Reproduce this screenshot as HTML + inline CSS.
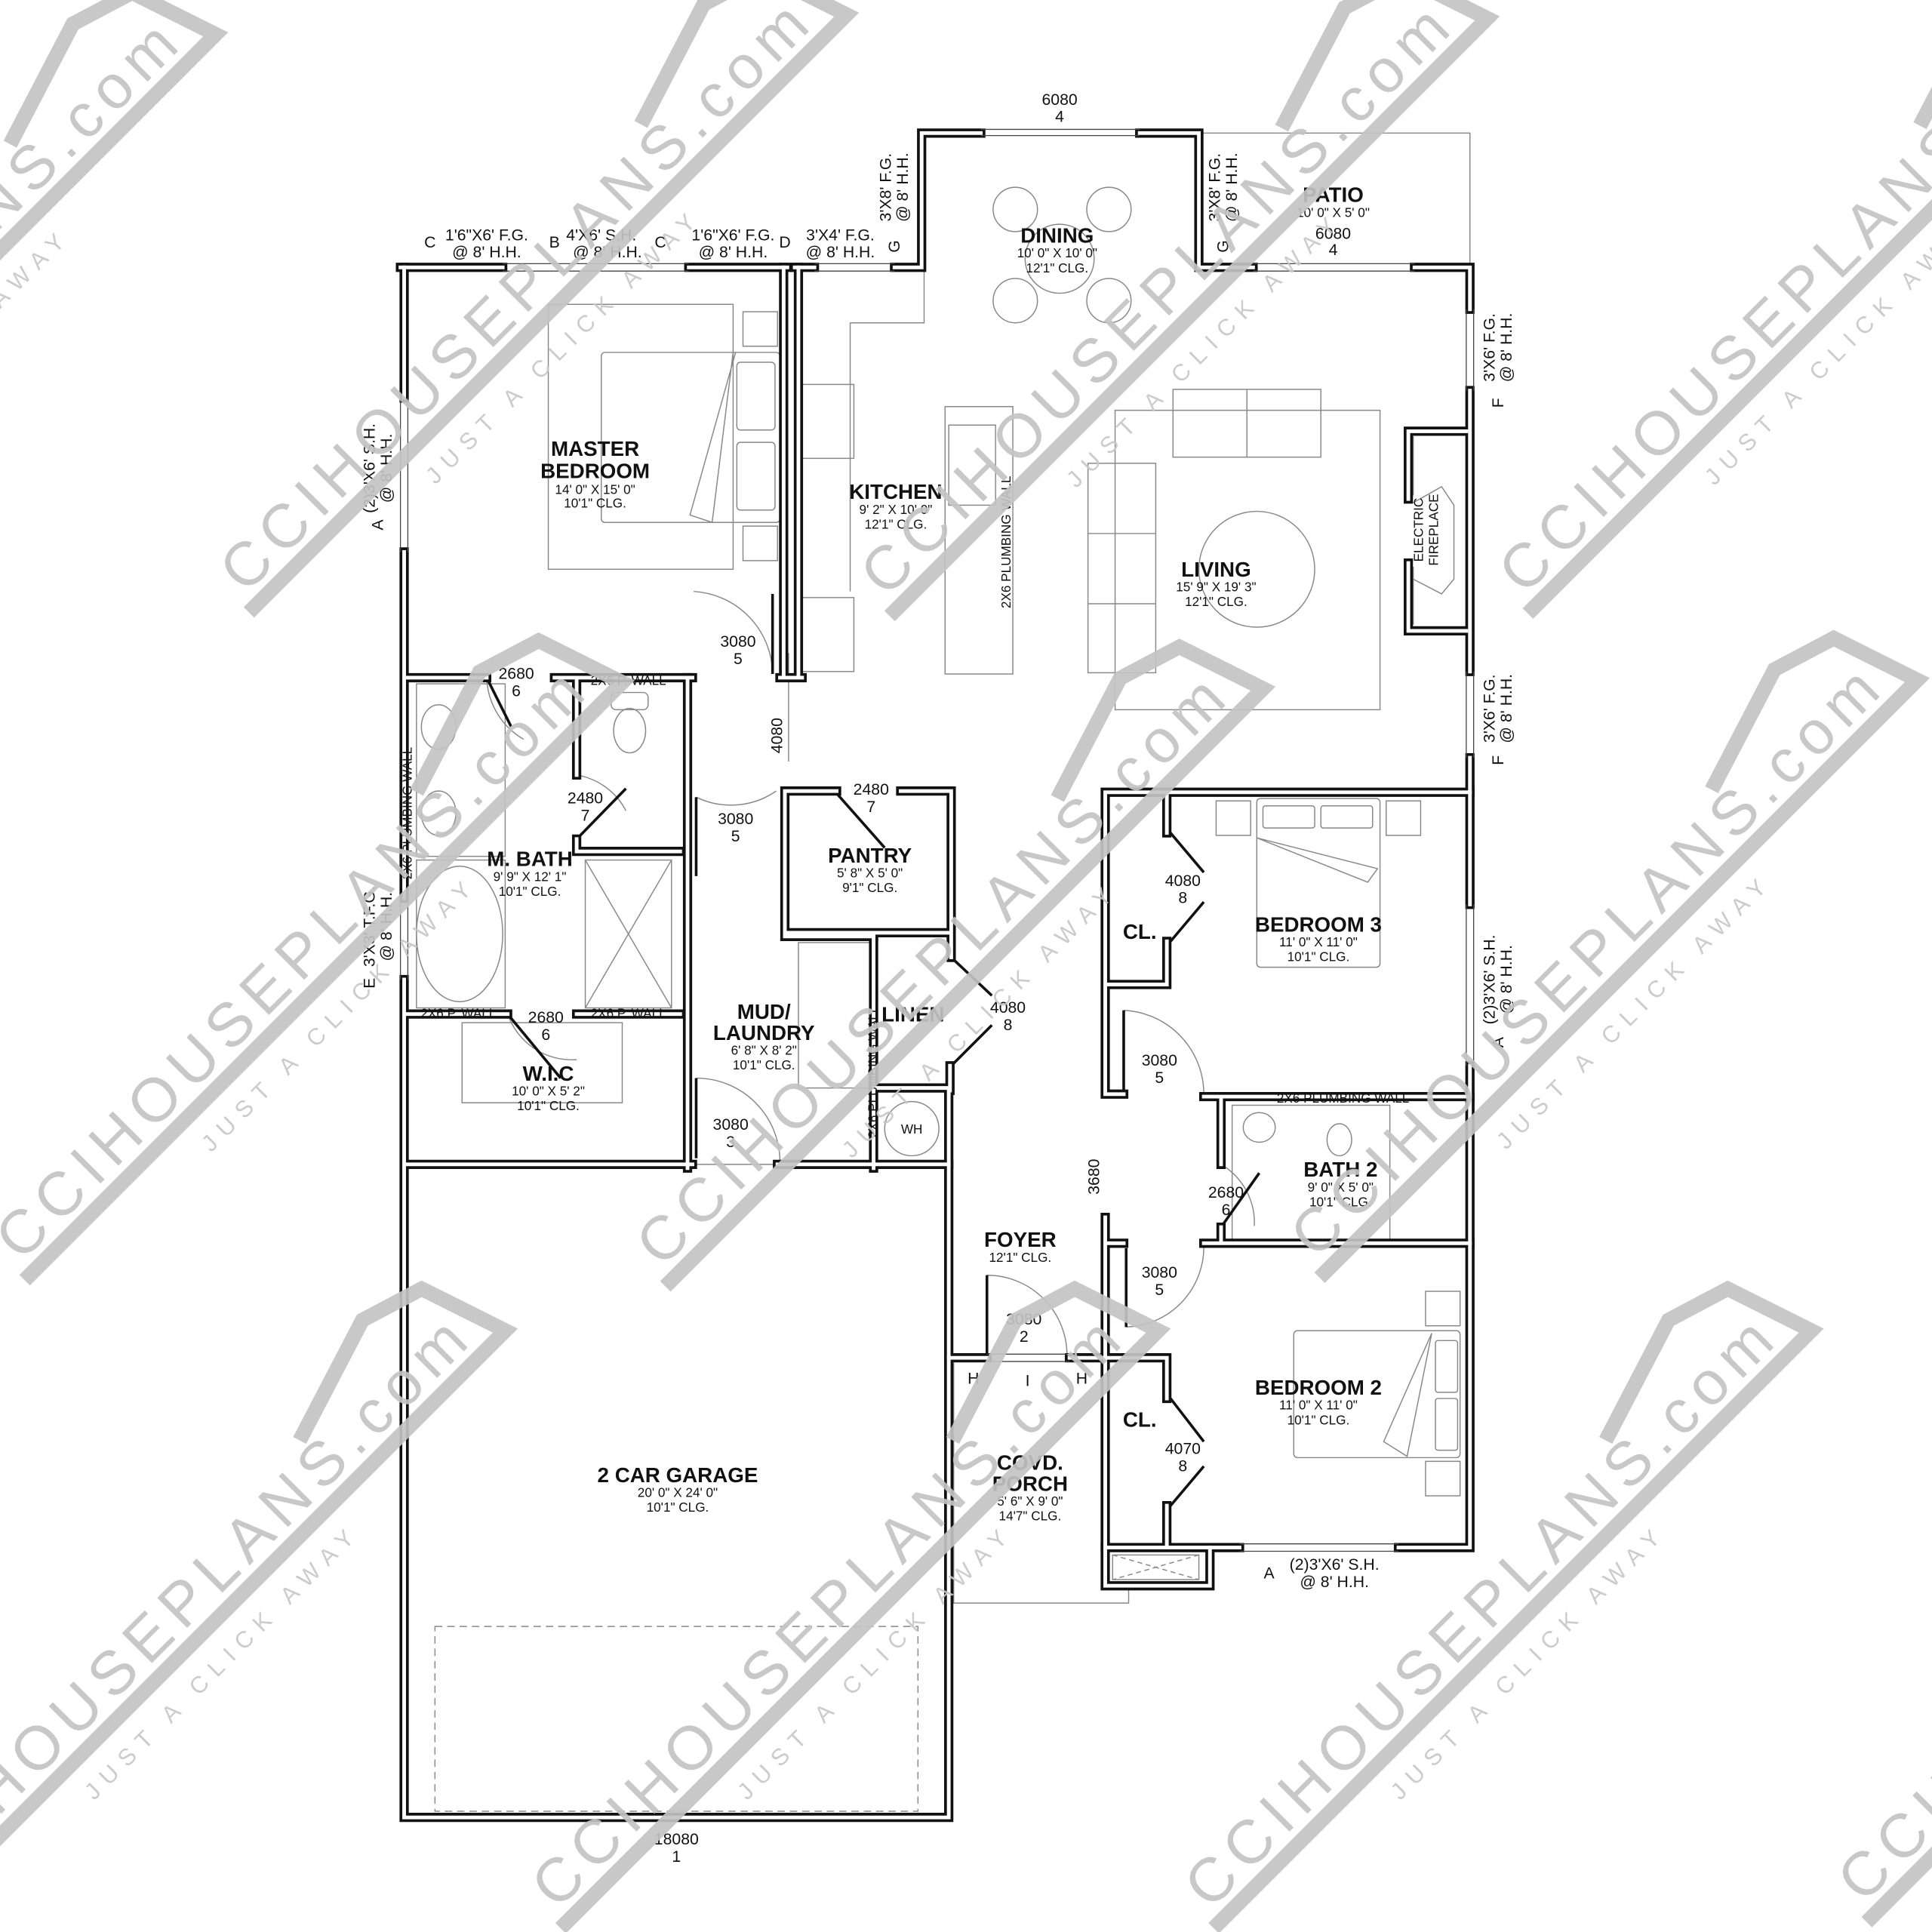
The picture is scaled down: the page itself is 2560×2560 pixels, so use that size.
<!DOCTYPE html>
<html><head><meta charset="utf-8"><style>
html,body{margin:0;padding:0;background:#fff;}
svg{display:block;}
text{font-family:"Liberation Sans",sans-serif;fill:#111;}
.rn{font-weight:bold;font-size:17px;text-anchor:middle;}
.sm{font-size:10.5px;text-anchor:middle;}
.lb{font-size:13px;text-anchor:middle;}
.wm{font-size:50px;fill:#c4c4c4;}
.wm2{font-size:19px;fill:#c8c8c8;}
</style></head><body>
<svg width="2560" height="2560" viewBox="0 0 1568 1568" xmlns="http://www.w3.org/2000/svg">
<defs>
<g id="walls">
 <path d="M328 217 V323 M328 448 V729 M328 795 V1475 H770 V885"/>
 <path d="M325 217 H408 M559 217 H639"/>
 <path d="M636 217 V550 M648 217 V550 M633 550 H651"/>
 <path d="M645 217 H661 M726 217 H748 V108 H796 M925 108 H973 V217 H1017 M1148 217 H1193 V251 M1193 317 V545 M1193 615 V734 M1193 865 V1256 H1135 M1006 1256 H897"/>
 <path d="M331 945 H562 M631 945 H770"/>
 <path d="M331 550 H395 M450 550 H562"/>
 <path d="M558 550 V948"/>
 <path d="M468 553 V629 M468 681 V691 H552"/>
 <path d="M331 823 H412 M468 823 H552"/>
 <path d="M637 642 H679 M731 642 H772 V777 M637 642 V760 H709 M637 757 H772"/>
 <path d="M709 760 V948 M709 883 H771 M771 865 V885"/>
 <path d="M897 643 H1193 M897 643 V888 H912 M947 646 V676 M947 764 V799 H900"/>
 <path d="M977 890 H1193 M991 893 V945 M991 996 V1009 M977 1009 H1193"/>
 <path d="M897 988 V1009 H912 M897 1009 V1287 H982 V1256"/>
 <path d="M897 1102 H947 V1135 M947 1222 V1255"/>
 <path d="M770 1102 H801 M868 1102 H897"/>
 <path d="M1190 350 H1143 V405 M1143 457 V512 H1190"/>
</g>
</defs>
<rect width="1568" height="1568" fill="#fff"/>
<g fill="none" stroke="#888" stroke-width="0.9">
 <path d="M975 108 H1193 V217"/>
 <path d="M774 1106 V1301 H916 V1287"/>
 <rect x="353" y="1320" width="392" height="150" stroke-dasharray="6,4"/>
 <path d="M353 1473 H745 M353 1477 H745"/>
 <rect x="445" y="247" width="150" height="215"/>
 <rect x="488" y="286" width="145" height="138" rx="3"/>
 <path d="M597 286 L560 418 L578 424 L595 286"/>
 <rect x="603" y="253" width="28" height="28"/><rect x="603" y="427" width="28" height="28"/>
 <rect x="598" y="294" width="31" height="55" rx="3"/><rect x="598" y="359" width="31" height="55" rx="3"/>
 <rect x="905" y="333" width="215" height="243"/>
 <rect x="952" y="316" width="120" height="55"/><path d="M1012 316 V371"/>
 <rect x="883" y="376" width="55" height="170"/><path d="M883 433 H938 M883 490 H938"/>
 <circle cx="1020" cy="462" r="47"/>
 <circle cx="860" cy="210" r="28"/>
 <circle cx="824" cy="170" r="18"/><circle cx="900" cy="170" r="18"/><circle cx="824" cy="244" r="18"/><circle cx="900" cy="244" r="18"/>
 <rect x="767" y="330" width="55" height="217"/>
 <rect x="770" y="345" width="38" height="65"/>
 <rect x="650" y="312" width="43" height="60"/><rect x="650" y="485" width="43" height="60"/>
 <polyline points="690,262 690,480"/><polyline points="690,262 750,262 750,220"/>
 <path d="M1147 354 V402 M1147 460 V507 M1147 408 L1170 395 L1180 410 V470 L1170 482 L1147 470"/>
 <rect x="1020" y="648" width="100" height="137" rx="3"/>
 <rect x="987" y="650" width="28" height="28"/><rect x="1125" y="650" width="28" height="28"/>
 <rect x="1025" y="654" width="42" height="18" rx="2"/><rect x="1072" y="654" width="42" height="18" rx="2"/>
 <path d="M1020 680 L1118 705 L1110 716 Z"/>
 <rect x="1050" y="1080" width="135" height="103" rx="3"/>
 <path d="M1162 1082 L1123 1170 L1142 1182 Z"/>
 <rect x="1157" y="1048" width="28" height="28"/><rect x="1157" y="1186" width="28" height="28"/>
 <rect x="1165" y="1088" width="18" height="42" rx="2"/><rect x="1165" y="1135" width="18" height="42" rx="2"/>
 <rect x="338" y="555" width="72" height="140"/>
 <ellipse cx="356" cy="590" rx="14" ry="18"/><ellipse cx="356" cy="660" rx="14" ry="18"/>
 <ellipse cx="373" cy="758" rx="35" ry="55"/><rect x="338" y="698" width="72" height="120"/>
 <rect x="475" y="698" width="70" height="120"/><path d="M475 698 L545 818 M545 698 L475 818"/>
 <ellipse cx="511" cy="593" rx="13" ry="18"/><rect x="496" y="562" width="30" height="14" rx="4"/>
 <rect x="375" y="830" width="130" height="65"/>
 <rect x="648" y="765" width="58" height="118"/>
 <circle cx="740" cy="916" r="22"/>
 <rect x="1000" y="897" width="128" height="110"/>
 <ellipse cx="1022" cy="915" rx="13" ry="12"/><ellipse cx="1087" cy="925" rx="10" ry="13"/>
 <rect x="903" y="1262" width="70" height="20"/><path d="M903 1262 L973 1282 M973 1262 L903 1282" stroke-dasharray="4,3"/>
 <path d="M563 480 A68 68 0 0 1 627 545"/><path d="M565 647 A65 65 0 0 0 630 642"/>
 <path d="M565 875 A68 68 0 0 1 633 943"/><path d="M912 820 A68 68 0 0 1 977 888"/>
 <path d="M914 1077 A65 65 0 0 0 977 1010"/><path d="M801 1035 A65 65 0 0 1 866 1100"/>
 <path d="M395 550 A60 60 0 0 0 425 600"/><path d="M468 629 A55 55 0 0 1 508 658"/>
 <path d="M412 823 A55 55 0 0 0 468 860"/><path d="M991 945 A55 55 0 0 1 1018 995"/>
 <path d="M640 618 V530 M636 945 H556"/>
</g>
<g stroke="#111" stroke-width="2.2" fill="none">
 <path d="M627 482 V547 M565 647 V711 M565 875 V940 M912 820 V885 M914 1013 V1077 M801 1035 V1100"/>
 <path d="M395 550 L415 590 M468 681 L508 640 M412 823 L455 875 M991 996 L1022 952"/>
 <path d="M680 645 L718 688 M772 777 L805 808 M772 865 L805 832 M950 676 L977 708 M950 764 L977 732 M950 1135 L977 1170 M950 1222 L977 1190"/>
</g>
<use href="#walls" fill="none" stroke="#111" stroke-width="7.5" stroke-linejoin="miter" stroke-linecap="square"/>
<use href="#walls" fill="none" stroke="#fff" stroke-width="3" stroke-linejoin="miter" stroke-linecap="square"/>
<g stroke="#444" stroke-width="0.8" fill="none">
 <path d="M325 323 V448 M331 323 V448 M325 729 V795 M331 729 V795"/>
 <path d="M408 214 H559 M408 220 H559 M661 214 H726 M661 220 H726"/>
 <path d="M796 105 H925 M796 110 H925 M1017 214 H1148 M1017 220 H1148"/>
 <path d="M1190 251 V317 M1196 251 V317 M1190 545 V615 M1196 545 V615 M1190 734 V865 M1196 734 V865"/>
 <path d="M1006 1253 H1135 M1006 1259 H1135 M801 1099 H868 M801 1105 H868"/>
</g>
<g>
<text class="rn" x="483" y="370">MASTER</text><text class="rn" x="483" y="388">BEDROOM</text>
<text class="sm" x="483" y="401">14' 0" X 15' 0"</text><text class="sm" x="483" y="412">10'1" CLG.</text>
<text class="rn" x="727" y="405">KITCHEN</text><text class="sm" x="727" y="417">9' 2" X 10' 0"</text><text class="sm" x="727" y="429">12'1" CLG.</text>
<text class="rn" x="858" y="197">DINING</text><text class="sm" x="858" y="209">10' 0" X 10' 0"</text><text class="sm" x="858" y="221">12'1" CLG.</text>
<text class="rn" x="1082" y="164">PATIO</text><text class="sm" x="1082" y="176">10' 0" X 5' 0"</text>
<text class="rn" x="987" y="468">LIVING</text><text class="sm" x="987" y="480">15' 9" X 19' 3"</text><text class="sm" x="987" y="492">12'1" CLG.</text>
<text class="rn" x="430" y="703">M. BATH</text><text class="sm" x="430" y="715">9' 9" X 12' 1"</text><text class="sm" x="430" y="727">10'1" CLG.</text>
<text class="rn" x="445" y="877">W.I.C</text><text class="sm" x="445" y="889">10' 0" X 5' 2"</text><text class="sm" x="445" y="901">10'1" CLG.</text>
<text class="rn" x="706" y="700">PANTRY</text><text class="sm" x="706" y="712">5' 8" X 5' 0"</text><text class="sm" x="706" y="724">9'1" CLG.</text>
<text class="rn" x="620" y="827">MUD/</text><text class="rn" x="620" y="844">LAUNDRY</text><text class="sm" x="620" y="856">6' 8" X 8' 2"</text><text class="sm" x="620" y="868">10'1" CLG.</text>
<text class="rn" x="741" y="829">LINEN</text>
<text class="rn" x="1070" y="756">BEDROOM 3</text><text class="sm" x="1070" y="768">11' 0" X 11' 0"</text><text class="sm" x="1070" y="780">10'1" CLG.</text>
<text class="rn" x="925" y="762">CL.</text><text class="rn" x="925" y="1158">CL.</text>
<text class="rn" x="1088" y="955">BATH 2</text><text class="sm" x="1088" y="967">9' 0" X 5' 0"</text><text class="sm" x="1088" y="979">10'1" CLG.</text>
<text class="rn" x="828" y="1012">FOYER</text><text class="sm" x="828" y="1024">12'1" CLG.</text>
<text class="rn" x="1070" y="1132">BEDROOM 2</text><text class="sm" x="1070" y="1144">11' 0" X 11' 0"</text><text class="sm" x="1070" y="1156">10'1" CLG.</text>
<text class="rn" x="836" y="1193">COVD.</text><text class="rn" x="836" y="1210">PORCH</text><text class="sm" x="836" y="1222">5' 6" X 9' 0"</text><text class="sm" x="836" y="1234">14'7" CLG.</text>
<text class="rn" x="550" y="1203">2 CAR GARAGE</text><text class="sm" x="550" y="1215">20' 0" X 24' 0"</text><text class="sm" x="550" y="1227">10'1" CLG.</text>
<text class="lb" x="860" y="85">6080</text><text class="lb" x="860" y="99">4</text>
<text class="lb" x="1082" y="194">6080</text><text class="lb" x="1082" y="207">4</text>
<text class="lb" x="549" y="1497">18080</text><text class="lb" x="549" y="1511">1</text>
<text class="lb" x="599" y="525">3080</text><text class="lb" x="599" y="539">5</text>
<text class="lb" x="597" y="669">3080</text><text class="lb" x="597" y="683">5</text>
<text class="lb" x="593" y="917">3080</text><text class="lb" x="593" y="931">3</text>
<text class="lb" x="419" y="551">2680</text><text class="lb" x="419" y="565">6</text>
<text class="lb" x="475" y="652">2480</text><text class="lb" x="475" y="666">7</text>
<text class="lb" x="443" y="830">2680</text><text class="lb" x="443" y="844">6</text>
<text class="lb" x="707" y="645">2480</text><text class="lb" x="707" y="659">7</text>
<text class="lb" x="818" y="822">4080</text><text class="lb" x="818" y="836">8</text>
<text class="lb" x="960" y="719">4080</text><text class="lb" x="960" y="733">8</text>
<text class="lb" x="941" y="865">3080</text><text class="lb" x="941" y="879">5</text>
<text class="lb" x="995" y="972">2680</text><text class="lb" x="995" y="986">6</text>
<text class="lb" x="941" y="1037">3080</text><text class="lb" x="941" y="1051">5</text>
<text class="lb" x="831" y="1075">3080</text><text class="lb" x="831" y="1089">2</text>
<text class="lb" x="960" y="1180">4070</text><text class="lb" x="960" y="1194">8</text>
<text class="lb" x="790" y="1123">H</text><text class="lb" x="834" y="1125">I</text><text class="lb" x="878" y="1123">H</text>
<text class="lb" x="595" y="195">1'6"X6' F.G.</text><text class="lb" x="595" y="209">@ 8' H.H.</text><text class="lb" x="536" y="201">C</text><text class="lb" x="637" y="201">D</text>
<text class="lb" x="488" y="195">4'X6' S.H.</text><text class="lb" x="493" y="209">@ 8' H.H.</text><text class="lb" x="450" y="201">B</text>
<text class="lb" x="395" y="195">1'6"X6' F.G.</text><text class="lb" x="395" y="209">@ 8' H.H.</text><text class="lb" x="349" y="201">C</text>
<text class="lb" x="682" y="195">3'X4' F.G.</text><text class="lb" x="682" y="209">@ 8' H.H.</text>
<text class="lb" x="1083" y="1274">(2)3'X6' S.H.</text><text class="lb" x="1083" y="1288">@ 8' H.H.</text><text class="lb" x="1030" y="1281">A</text>
<text class="sm" x="740" y="920">WH</text>
<text class="sm" x="1090" y="895">2X6 PLUMBING WALL</text>
<text class="sm" x="510" y="556">2X6 P. WALL</text><text class="sm" x="372" y="826">2X6 P. WALL</text><text class="sm" x="510" y="826">2X6 P. WALL</text>
<g transform="rotate(-90)">
 <text class="lb" x="-380" y="304">(2)3'X6' S.H.</text><text class="lb" x="-380" y="318">@ 8' H.H.</text><text class="lb" x="-426" y="311">A</text>
 <text class="lb" x="-752" y="304">3'X3' T.F.G.</text><text class="lb" x="-752" y="318">@ 8' H.H.</text><text class="lb" x="-798" y="304">E</text>
 <text class="lb" x="-152" y="723">3'X8' F.G.</text><text class="lb" x="-152" y="737">@ 8' H.H.</text><text class="lb" x="-200" y="730">G</text>
 <text class="lb" x="-152" y="990">3'X8' F.G.</text><text class="lb" x="-152" y="1004">@ 8' H.H.</text><text class="lb" x="-200" y="997">G</text>
 <text class="lb" x="-282" y="1213">3'X6' F.G.</text><text class="lb" x="-282" y="1227">@ 8' H.H.</text><text class="lb" x="-327" y="1220">F</text>
 <text class="lb" x="-575" y="1213">3'X6' F.G.</text><text class="lb" x="-575" y="1227">@ 8' H.H.</text><text class="lb" x="-617" y="1220">F</text>
 <text class="lb" x="-795" y="1213">(2)3'X6' S.H.</text><text class="lb" x="-795" y="1227">@ 8' H.H.</text><text class="lb" x="-846" y="1220">A</text>
 <text class="lb" x="-597" y="635">4080</text><text class="lb" x="-955" y="892">3680</text>
 <text class="sm" x="-440" y="820">2X6 PLUMBING WALL</text>
 <text class="sm" x="-660" y="334">2X6 PLUMBING WALL</text>
 <text class="sm" x="-870" y="712">2X6 PLUMBING WALL</text>
 <text class="sm" x="-430" y="1155">ELECTRIC</text><text class="sm" x="-430" y="1167">FIREPLACE</text>
</g>
</g>
<defs>
<g id="logo">
 <path d="M0 0 H686 L662 -72 L610 -88 L505 -55" fill="none" stroke="#c4c4c4" stroke-width="12" stroke-linejoin="miter"/>
 <text class="wm" x="8" y="-12" textLength="650" lengthAdjust="spacing">CCIHOUSEPLANS.com</text>
 <text class="wm2" x="180" y="34" textLength="300" lengthAdjust="spacing">JUST A CLICK AWAY</text>
</g>
</defs>
<g opacity="0.92">
 <use href="#logo" transform="translate(-310,513) rotate(-45)"/>
 <use href="#logo" transform="translate(202,497) rotate(-45)"/>
 <use href="#logo" transform="translate(722,500) rotate(-45)"/>
 <use href="#logo" transform="translate(1240,498) rotate(-45)"/>
 <use href="#logo" transform="translate(20,1039) rotate(-45)"/>
 <use href="#logo" transform="translate(540,1044) rotate(-45)"/>
 <use href="#logo" transform="translate(1071,1037) rotate(-45)"/>
 <use href="#logo" transform="translate(-75,1565) rotate(-45)"/>
 <use href="#logo" transform="translate(455,1565) rotate(-45)"/>
 <use href="#logo" transform="translate(985,1565) rotate(-45)"/>
 <use href="#logo" transform="translate(1515,1560) rotate(-45)"/>
</g>
</svg>
</body></html>
